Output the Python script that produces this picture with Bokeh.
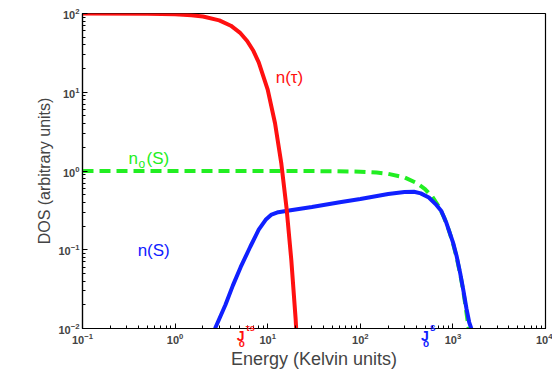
from bokeh.plotting import figure
from bokeh.models import Label, Range1d
from bokeh.embed import file_html
from bokeh.resources import INLINE

# n(tau) curve
red_x = [0.1, 0.5, 1, 1.5, 2, 3, 4, 5, 6, 7, 8, 10, 12, 14, 16, 18, 20, 20.3]
red_y = [100, 99.4, 97.8, 95.1, 91.5, 81.8, 70.0, 57.3, 44.8, 33.6, 24.0, 10.8, 4.04, 1.27, 0.333, 0.0734, 0.0135, 0.0100]

# n_o(S) curve
green_x = [0.1, 1, 10, 50, 100, 150, 200, 300, 400, 500, 600, 700, 800, 900, 1000, 1100, 1200, 1300, 1400, 1480]
green_y = [1.0, 1.0, 1.0, 0.995, 0.98, 0.955, 0.92, 0.83, 0.71, 0.59, 0.47, 0.357, 0.26, 0.18, 0.122, 0.079, 0.049, 0.029, 0.016, 0.010]

# n(S) curve
blue_x = [2.7, 3.5, 4.2, 5.1, 6.5, 8, 9.5, 11, 13, 17, 30, 60, 100, 200, 300, 380, 450, 550, 650, 750, 850, 1000, 1100, 1200, 1300, 1400, 1500, 1580]
blue_y = [0.010, 0.020, 0.035, 0.060, 0.11, 0.18, 0.24, 0.28, 0.30, 0.315, 0.35, 0.40, 0.44, 0.51, 0.54, 0.545, 0.52, 0.46, 0.38, 0.31, 0.22, 0.125, 0.082, 0.050, 0.030, 0.018, 0.012, 0.010]

# characteristic energies marked under the axis
j_x = [4.63, 451]

FONT = "Liberation Sans"
RED, GREEN, BLUE = "#ff1010", "#22ee22", "#1020ff"

p = figure(width=552, height=372, x_axis_type="log", y_axis_type="log",
           x_range=Range1d(0.1, 1e4), y_range=Range1d(0.01, 100),
           output_backend="svg", toolbar_location=None,
           min_border_left=82, min_border_right=7, min_border_top=13, min_border_bottom=44)
p.title.visible = False
p.grid.visible = False
p.outline_line_color = "black"
p.outline_line_width = 1.2
p.background_fill_color = "white"
p.border_fill_color = "white"

for ax in (p.xaxis[0], p.yaxis[0]):
    ax.major_tick_in = 5
    ax.major_tick_out = 0
    ax.minor_tick_in = 3
    ax.minor_tick_out = 0
    ax.axis_line_color = "black"
    ax.axis_line_width = 1.2
    ax.major_label_text_font = FONT
    ax.major_label_text_font_style = "bold"
    ax.major_label_text_font_size = "11px"
    ax.axis_label_text_font = FONT
    ax.axis_label_text_font_style = "normal"

p.xaxis.axis_label = "Energy (Kelvin units)"
p.xaxis.axis_label_text_font_size = "18px"
p.xaxis.axis_label_standoff = 2
p.xaxis.major_label_standoff = 4
p.yaxis.axis_label = "DOS (arbitrary units)"
p.yaxis.axis_label_text_font_size = "16px"
p.yaxis.axis_label_standoff = 2
p.yaxis.major_label_standoff = 3

p.line(green_x, green_y, line_color=GREEN, line_width=4, line_dash="11 6")
p.line(blue_x, blue_y, line_color=BLUE, line_width=4)
p.line(red_x, red_y, line_color=RED, line_width=4)

def lab(x, y, t, color, size, xo=0, yo=0, place=None, style="normal"):
    l = Label(x=x, y=y, text=t, text_color=color, text_font=FONT,
              text_font_size=size, x_offset=xo, y_offset=yo,
              text_baseline="alphabetic", text_font_style=style)
    if place:
        p.add_layout(l, place)
    else:
        p.add_layout(l)

lab(12.2, 15.4, "n(\u03c4)", RED, "17px")
lab(0.314, 1.44, "n", GREEN, "17px")
lab(0.314, 1.44, "o", GREEN, "12px", xo=10, yo=-5)
lab(0.314, 1.44, "(S)", GREEN, "17px", xo=18)
lab(0.394, 0.098, "n(S)", BLUE, "17px")

# J labels below the axis (side-panel labels are not clipped to the frame);
# spread over the side panels so the frame keeps its place
Y_J = 0.0081
lab(j_x[0], Y_J, "J", RED, "14px", place="left", style="bold")
lab(j_x[0], Y_J, "\u03c4s", RED, "9px", xo=9, yo=8, place="above", style="bold")
lab(j_x[0], Y_J, "o", RED, "10px", xo=2, yo=-8, place="right", style="bold")
lab(j_x[1], Y_J, "J", BLUE, "14px", place="left", style="bold")
lab(j_x[1], Y_J, "s", BLUE, "10px", xo=9, yo=8, place="left", style="bold")
lab(j_x[1], Y_J, "o", BLUE, "10px", xo=2, yo=-8, place="left", style="bold")

open("out.html", "w").write(file_html(p, INLINE))
